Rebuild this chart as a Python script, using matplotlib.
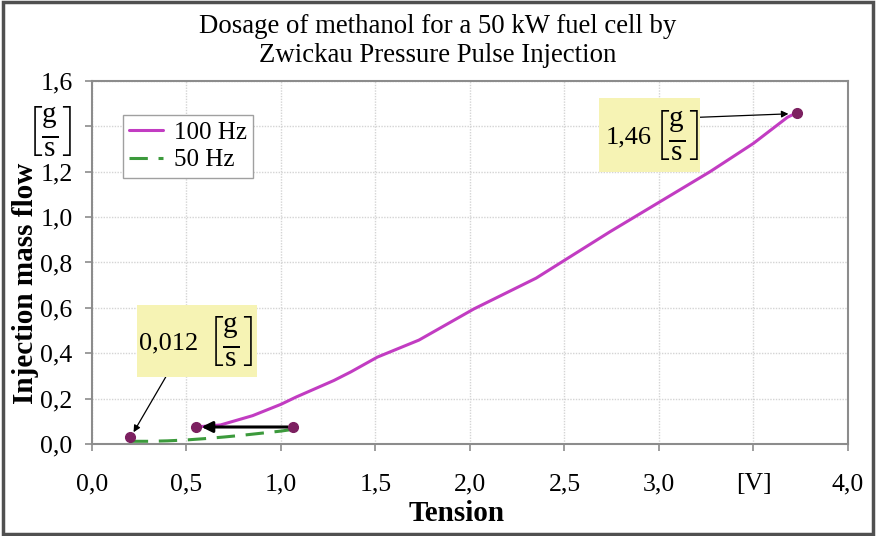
import matplotlib
matplotlib.use("Agg")
import matplotlib.pyplot as plt
from matplotlib.patches import Rectangle

plt.rcParams["font.family"] = ["Liberation Serif", "DejaVu Serif"]
plt.rcParams["mathtext.fontset"] = "custom"
plt.rcParams["mathtext.rm"] = "Liberation Serif"
plt.rcParams["mathtext.it"] = "Liberation Serif:italic"
plt.rcParams["mathtext.bf"] = "Liberation Serif:bold"

# Injection mass flow versus control voltage
tension_100hz = [0.55, 0.68, 0.85, 1.00, 1.08, 1.28, 1.37, 1.51, 1.73, 2.02,
                 2.35, 2.52, 2.74, 3.00, 3.27, 3.50, 3.68, 3.73]
flow_100hz = [0.075, 0.084, 0.125, 0.175, 0.207, 0.280, 0.318, 0.383, 0.458,
              0.595, 0.731, 0.820, 0.935, 1.065, 1.200, 1.325, 1.440, 1.460]

tension_50hz = [0.20, 0.30, 0.40, 0.50, 0.60, 0.70, 0.80, 0.90, 1.00, 1.065]
flow_50hz = [0.012, 0.012, 0.014, 0.018, 0.024, 0.031, 0.039, 0.048, 0.057, 0.065]

# Highlighted operating points
min_point = (0.20, 0.012)
max_point = (3.73, 1.46)
shift_from = (1.065, 0.075)
shift_to = (0.55, 0.075)
min_label = "0,012"
max_label = "1,46"

x_ticks = [0.0, 0.5, 1.0, 1.5, 2.0, 2.5, 3.0, 3.5, 4.0]
x_tick_labels = ["0,0", "0,5", "1,0", "1,5", "2,0", "2,5", "3,0", "[V]", "4,0"]
y_ticks = [0.0, 0.2, 0.4, 0.6, 0.8, 1.0, 1.2, 1.4, 1.6]
unit_gs = r"$\left[\frac{\mathrm{g}}{\mathrm{s}}\right]$"
y_tick_labels = ["0,0", "0,2", "0,4", "0,6", "0,8", "1,0", "1,2", unit_gs, "1,6"]

magenta = "#c23cc2"
green = "#3c9a3c"
dot_col = "#7c2060"
grey = "#8c8c8c"
box_col = "#f6f3b4"

fig = plt.figure(figsize=(8.76, 5.36), dpi=100)
ax = fig.add_axes([0.105, 0.1716, 0.863, 0.6774])

ax.plot(tension_100hz, flow_100hz, color=magenta, lw=2.2, label="100 Hz",
        solid_capstyle="round", solid_joinstyle="round")
ax.plot(tension_50hz, flow_50hz, color=green, lw=2.2, dashes=(6, 3.5),
        label="50 Hz")

ax.set_xlim(0, 4.0)
ax.set_ylim(0, 1.6)
ax.set_xticks(x_ticks)
ax.set_xticklabels(x_tick_labels)
ax.set_yticks(y_ticks)
ax.set_yticklabels(y_tick_labels)
ax.tick_params(axis="both", direction="out", length=5, width=1.2, color=grey,
               labelsize=18.5)
ax.tick_params(axis="y", pad=9)
ax.tick_params(axis="x", pad=16)
ax.get_yticklabels()[7].set_fontsize(30)
for s in ax.spines.values():
    s.set_color(grey)
    s.set_linewidth(1.5)
ax.grid(True, color="#d4d4d4", linestyle=(0, (1, 1)), linewidth=1.0)
ax.set_axisbelow(True)

# Arrow showing the shift of the lower operating point
ax.annotate("", xy=shift_to, xytext=shift_from,
            arrowprops=dict(arrowstyle="-|>", color="black", lw=2.2,
                            mutation_scale=16, shrinkA=4, shrinkB=4))

# Marker dots
ax.plot([shift_to[0], shift_from[0], max_point[0]],
        [shift_to[1], shift_from[1], max_point[1]],
        "o", color=dot_col, ms=7, zorder=5)
ax.plot([min_point[0]], [min_point[1] + 0.02], "o", color=dot_col, ms=7, zorder=5)


def value_box(x0, x1, y0, y1, value_text, text_x, unit_x):
    ax.add_patch(Rectangle((x0, y0), x1 - x0, y1 - y0, fc=box_col, ec="none",
                           zorder=6))
    yc = (y0 + y1) / 2
    ax.text(text_x, yc, value_text, fontsize=19, ha="left", va="center_baseline",
            zorder=7)
    ax.text(unit_x, yc, unit_gs, fontsize=30, ha="center", va="center", zorder=7)


# Value callouts
value_box(0.238, 0.873, 0.295, 0.612, min_label, 0.25, 0.73)
ax.annotate("", xy=(min_point[0] + 0.02, min_point[1] + 0.04), xytext=(0.39, 0.295),
            arrowprops=dict(arrowstyle="-|>", color="black", lw=0.9,
                            mutation_scale=10, shrinkA=0, shrinkB=0))
value_box(2.683, 3.217, 1.198, 1.524, max_label, 2.72, 3.09)
ax.annotate("", xy=(max_point[0] - 0.045, max_point[1] - 0.005), xytext=(3.217, 1.44),
            arrowprops=dict(arrowstyle="-|>", color="black", lw=0.9,
                            mutation_scale=10, shrinkA=0, shrinkB=0))

leg = ax.legend(loc="upper left", bbox_to_anchor=(0.041, 0.906), fontsize=18,
                frameon=True, fancybox=False, framealpha=1, edgecolor="#a0a0a0",
                handlelength=1.35, handletextpad=0.45, borderpad=0.25,
                borderaxespad=0, labelspacing=0.2)
leg.get_frame().set_linewidth(1.0)

ax.set_xlabel("Tension", fontsize=21, fontweight="bold")
ax.xaxis.set_label_coords(0.483, -0.155)
ax.set_ylabel("Injection mass flow", fontsize=21, fontweight="bold")
ax.yaxis.set_label_coords(-0.07, 0.443)

fig.text(0.5, 0.973, "Dosage of methanol for a 50 kW fuel cell by\n"
         "Zwickau Pressure Pulse Injection", fontsize=19.3, ha="center", va="top",
         linespacing=1.2)

fig.patches.append(Rectangle((0.003, 0.004), 0.994, 0.992, transform=fig.transFigure,
                             fill=False, ec="#505050", lw=2.5))

fig.savefig("out.png", dpi=100)
